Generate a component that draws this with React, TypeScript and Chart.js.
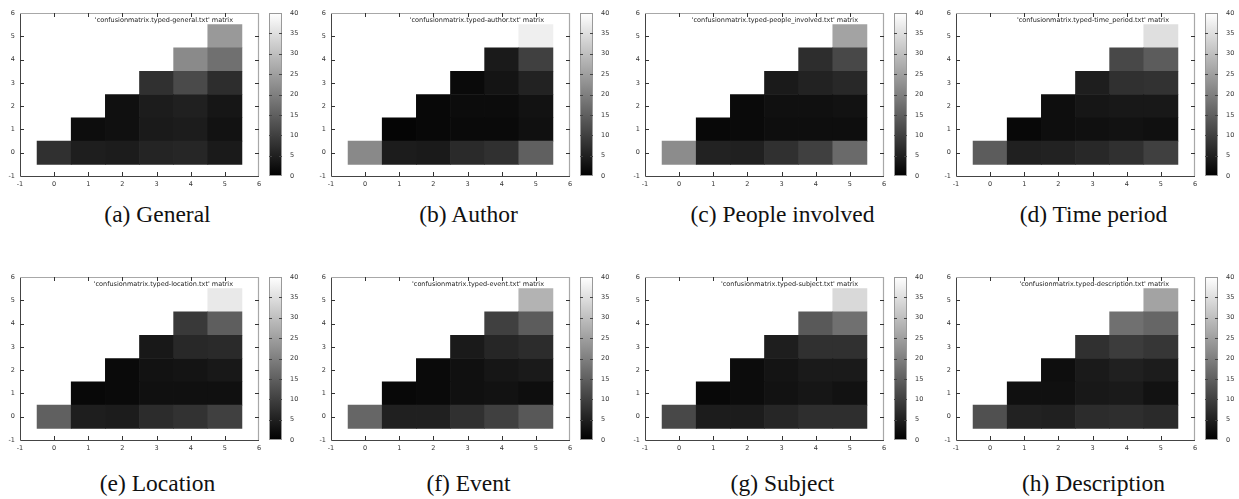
import React, { useEffect, useRef } from "react";
import { Chart, registerables } from "chart.js";

Chart.register(...registerables);

// Tick labels
const axisTicks = [-1, 0, 1, 2, 3, 4, 5, 6];
const colorbarTicks = [0, 5, 10, 15, 20, 25, 30, 35, 40];

// Panel names and captions
const fileNames = [
  "general",
  "author",
  "people_involved",
  "time_period",
  "location",
  "event",
  "subject",
  "description",
];
const captions = [
  "(a) General",
  "(b) Author",
  "(c) People involved",
  "(d) Time period",
  "(e) Location",
  "(f) Event",
  "(g) Subject",
  "(h) Description",
];

// Matrices: row index = y (0..5), each row holds values for x = y..5
const general = [
  [7.5, 4.7, 4.4, 5.6, 6, 4],
  [2, 2.5, 4, 4.4, 2.8],
  [2.5, 4.4, 5, 3.5],
  [7.5, 11.6, 7],
  [21.7, 17.5],
  [24],
];
const author = [
  [21.5, 4.4, 4, 6.6, 7.5, 15],
  [0.8, 1.2, 1.6, 1.6, 2.5],
  [1.2, 1.9, 1.9, 2.8],
  [1.6, 3.1, 5.3],
  [4, 10],
  [37.5],
];
const peopleInvolved = [
  [22, 5.3, 5, 7.5, 10, 16.6],
  [1.2, 1.6, 2.2, 2.2, 2.2],
  [1.6, 2.5, 2.5, 2.8],
  [4, 5.3, 6.3],
  [7, 11.3],
  [25.5],
];
const timePeriod = [
  [14.5, 5, 5.3, 6.3, 7.5, 10],
  [1.2, 2.2, 2.5, 2.8, 2.5],
  [2.2, 3.4, 3.8, 3.8],
  [4.7, 7.5, 7.8],
  [11.3, 14.4],
  [35],
];
const location = [
  [15, 4.7, 4.4, 6.9, 7.8, 10],
  [1.2, 1.6, 2.5, 2.5, 2.5],
  [1.6, 2.8, 3.1, 3.8],
  [3.8, 6.3, 6.6],
  [9, 14.7],
  [36.5],
];
const event = [
  [16, 5, 5, 7.5, 10, 13.8],
  [1.2, 1.6, 2.5, 2.8, 2.2],
  [1.6, 2.5, 3.4, 4],
  [4, 6, 6.9],
  [10, 14.4],
  [28],
];
const subject = [
  [11.3, 4.4, 4.4, 6, 7.2, 7.2],
  [1.2, 1.9, 2.8, 3.4, 2.8],
  [1.9, 3.1, 4, 4],
  [4.7, 7.5, 7.5],
  [14, 17.5],
  [34],
];
const description = [
  [12.5, 5.3, 5, 6.9, 7.2, 6.6],
  [2.5, 2.5, 3.8, 4, 2.8],
  [2.2, 4, 5, 4.4],
  [7.5, 9.4, 8.4],
  [17.5, 16],
  [25.5],
];
const matrices = [general, author, peopleInvolved, timePeriod, location, event, subject, description];

const CB_MAX = 40;

function gray(v: number): string {
  const l = Math.max(0, Math.min(255, Math.round((v / CB_MAX) * 255)));
  return `rgb(${l},${l},${l})`;
}

const tickFont = { family: "DejaVu Sans", size: 6.5 };
const tickColor = "#333";

const framePlugin = {
  id: "gnuframe",
  afterDraw(chart: any) {
    const ctx = chart.ctx as CanvasRenderingContext2D;
    const { left, right, top, bottom } = chart.chartArea;
    const xs = chart.scales.x;
    const ys = chart.scales.y;
    const cb = chart.scales.cb;
    ctx.save();

    // plot border
    ctx.lineWidth = 1;
    ctx.strokeStyle = "#444";
    ctx.beginPath();
    ctx.moveTo(left + 0.5, top);
    ctx.lineTo(left + 0.5, bottom + 0.5);
    ctx.lineTo(right, bottom + 0.5);
    ctx.stroke();
    ctx.strokeStyle = "#a8a8a8";
    ctx.lineWidth = 1.2;
    ctx.beginPath();
    ctx.moveTo(left, top + 0.5);
    ctx.lineTo(right - 0.5, top + 0.5);
    ctx.lineTo(right - 0.5, bottom);
    ctx.stroke();

    // inward ticks
    ctx.strokeStyle = "#333";
    ctx.lineWidth = 1;
    const tl = 4;
    ctx.beginPath();
    for (const t of xs.ticks) {
      const px = Math.round(xs.getPixelForValue(t.value)) + 0.5;
      if (t.value === xs.min || t.value === xs.max) continue;
      ctx.moveTo(px, bottom);
      ctx.lineTo(px, bottom - tl);
      ctx.moveTo(px, top);
      ctx.lineTo(px, top + tl);
    }
    for (const t of ys.ticks) {
      const py = Math.round(ys.getPixelForValue(t.value)) + 0.5;
      if (t.value === ys.min || t.value === ys.max) continue;
      ctx.moveTo(left, py);
      ctx.lineTo(left + tl, py);
      ctx.moveTo(right, py);
      ctx.lineTo(right - tl, py);
    }
    ctx.stroke();

    // colorbar
    const cbL = right + 10;
    const cbW = 13;
    const yTop = cb.getPixelForValue(CB_MAX);
    const yBot = cb.getPixelForValue(0);
    const grad = ctx.createLinearGradient(0, yBot, 0, yTop);
    grad.addColorStop(0, "#000");
    grad.addColorStop(1, "#fff");
    ctx.fillStyle = grad;
    ctx.fillRect(cbL, yTop, cbW, yBot - yTop);
    ctx.strokeStyle = "#999";
    ctx.lineWidth = 1;
    ctx.strokeRect(cbL + 0.5, yTop + 0.5, cbW - 1, yBot - yTop - 1);
    ctx.strokeStyle = "#444";
    ctx.beginPath();
    for (const t of cb.ticks) {
      if (t.value === 0 || t.value === CB_MAX) continue;
      const py = Math.round(cb.getPixelForValue(t.value)) + 0.5;
      ctx.moveTo(cbL, py);
      ctx.lineTo(cbL + 3, py);
      ctx.moveTo(cbL + cbW, py);
      ctx.lineTo(cbL + cbW - 3, py);
    }
    ctx.stroke();

    // key text
    const label = chart.options.plugins.gnuframe.label as string;
    ctx.fillStyle = "#222";
    ctx.font = `${tickFont.size}px "${tickFont.family}"`;
    ctx.textAlign = "right";
    ctx.textBaseline = "middle";
    ctx.fillText(label, right - 26, top + 7);
    ctx.restore();
  },
};

const PLOT_TOP_PAD = 13;
const CANVAS_W = 300;
const CANVAS_H = 190;

function Panel({ idx, left, top }: { idx: number; left: number; top: number }) {
  const ref = useRef<HTMLCanvasElement>(null);
  useEffect(() => {
    const matrix = matrices[idx];
    const datasets = matrix.map((row, y) => ({
      label: `row ${y}`,
      data: row.map((_, i) => ({ x: y + i, y: [y - 0.5, y + 0.5] })),
      backgroundColor: row.map(gray),
      borderWidth: 0,
      barPercentage: 1,
      categoryPercentage: 1,
      grouped: false,
    }));
    const chart = new Chart(ref.current as HTMLCanvasElement, {
      type: "bar",
      data: { datasets } as any,
      options: {
        animation: false,
        responsive: false,
        maintainAspectRatio: false,
        events: [],
        layout: { padding: { top: PLOT_TOP_PAD, left: 0, right: 0, bottom: 0 } },
        plugins: {
          legend: { display: false },
          tooltip: { enabled: false },
          title: { display: false },
          gnuframe: { label: `'confusionmatrix.typed-${fileNames[idx]}.txt' matrix` },
        } as any,
        scales: {
          x: {
            type: "linear",
            min: axisTicks[0],
            max: axisTicks[axisTicks.length - 1],
            offset: false,
            grid: { display: false, drawTicks: false, offset: false },
            border: { display: false },
            ticks: { stepSize: 1, padding: 4, font: tickFont, color: tickColor, maxRotation: 0, autoSkip: false },
            afterFit: (s: any) => {
              s.height = 14;
              s.paddingLeft = 0;
              s.paddingRight = 0;
            },
          },
          y: {
            type: "linear",
            min: axisTicks[0],
            max: axisTicks[axisTicks.length - 1],
            beginAtZero: false,
            grid: { display: false, drawTicks: false },
            border: { display: false },
            ticks: { stepSize: 1, padding: 5, font: tickFont, color: tickColor, autoSkip: false },
            afterFit: (s: any) => {
              s.width = 20;
              s.paddingTop = 0;
              s.paddingBottom = 0;
            },
          },
          cb: {
            type: "linear",
            position: "right",
            min: colorbarTicks[0],
            max: colorbarTicks[colorbarTicks.length - 1],
            grid: { display: false, drawTicks: false },
            border: { display: false },
            ticks: { stepSize: 5, padding: 31, font: tickFont, color: tickColor, autoSkip: false },
            afterFit: (s: any) => {
              s.width = 41;
              s.paddingTop = 0;
              s.paddingBottom = 0;
            },
          },
        } as any,
      },
      plugins: [framePlugin],
    });
    return () => chart.destroy();
  }, [idx]);
  return (
    <canvas
      ref={ref}
      width={CANVAS_W}
      height={CANVAS_H}
      style={{ position: "absolute", left, top, width: CANVAS_W, height: CANVAS_H }}
    />
  );
}

const plotLefts = [20, 331, 645, 956];
const rowPlotTops = [13, 277];
const captionCenters = [214, 483];

export default function App() {
  return (
    <div style={{ position: "absolute", left: 0, top: 0, width: 1239, height: 499, background: "#fff", overflow: "hidden" }}>
      {captions.map((cap, i) => {
        const col = i % 4;
        const row = Math.floor(i / 4);
        const pl = plotLefts[col];
        return (
          <React.Fragment key={i}>
            <Panel idx={i} left={pl - 20} top={rowPlotTops[row] - PLOT_TOP_PAD} />
            <div
              style={{
                position: "absolute",
                left: pl + 137.5 - 120,
                width: 240,
                top: captionCenters[row] - 13,
                height: 26,
                lineHeight: "26px",
                textAlign: "center",
                fontFamily: "'Liberation Serif', 'Times New Roman', serif",
                fontSize: 23.5,
                color: "#111",
                whiteSpace: "nowrap",
              }}
            >
              {cap}
            </div>
          </React.Fragment>
        );
      })}
    </div>
  );
}
